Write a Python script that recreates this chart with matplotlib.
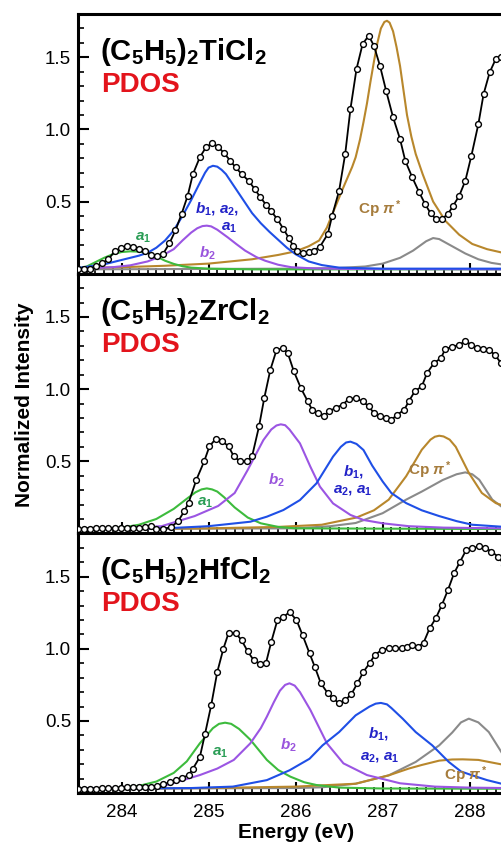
import matplotlib
matplotlib.use("Agg")
from matplotlib import pyplot as plt
from matplotlib.ticker import MultipleLocator, FixedLocator

plt.rcParams['font.family'] = ['Liberation Sans', 'DejaVu Sans']
plt.rcParams['mathtext.fontset'] = 'custom'
plt.rcParams['mathtext.rm'] = 'Liberation Sans:bold'
plt.rcParams['mathtext.it'] = 'Liberation Sans:italic:bold'
plt.rcParams['mathtext.bf'] = 'Liberation Sans:bold'

# ---- Ti panel: measured spectrum (open circles) ----
ti_e = [283.50, 283.57, 283.64, 283.71, 283.78, 283.85, 283.92, 283.99, 284.06, 284.13,
        284.20, 284.27, 284.34, 284.41, 284.48, 284.55, 284.62, 284.69, 284.76, 284.82,
        284.90, 284.97, 285.04, 285.11, 285.18, 285.25, 285.31, 285.38, 285.46, 285.53,
        285.59, 285.66, 285.72, 285.79, 285.86, 285.92, 285.97, 286.02, 286.08, 286.15,
        286.21, 286.28, 286.37, 286.42, 286.50, 286.57, 286.63, 286.70, 286.77, 286.84,
        286.90, 286.97, 287.04, 287.12, 287.20, 287.26, 287.34, 287.42, 287.49, 287.55,
        287.61, 287.68, 287.75, 287.81, 287.88, 287.95, 288.02, 288.10, 288.16, 288.23,
        288.30, 288.36]
ti_v = [0.03, 0.03, 0.035, 0.05, 0.075, 0.10, 0.155, 0.176, 0.19, 0.183,
        0.173, 0.16, 0.132, 0.12, 0.14, 0.21, 0.30, 0.414, 0.54, 0.69,
        0.807, 0.876, 0.904, 0.88, 0.834, 0.783, 0.737, 0.691, 0.644, 0.587,
        0.534, 0.478, 0.432, 0.379, 0.31, 0.25, 0.195, 0.16, 0.141, 0.148,
        0.16, 0.187, 0.275, 0.402, 0.575, 0.83, 1.141, 1.419, 1.592, 1.65,
        1.58, 1.44, 1.268, 1.084, 0.933, 0.783, 0.668, 0.564, 0.48, 0.42,
        0.379, 0.379, 0.414, 0.47, 0.54, 0.644, 0.818, 1.037, 1.245, 1.396,
        1.488, 1.50]

# Ti PDOS components
ti_green_e = [283.5, 283.6, 283.7, 283.8, 283.9, 284.0, 284.1, 284.2, 284.3, 284.4, 284.5,
              284.6, 284.7, 284.8, 285.0, 285.5, 286.5, 288.4]
ti_green_v = [0.035, 0.05, 0.08, 0.11, 0.135, 0.15, 0.155, 0.153, 0.145, 0.12, 0.09,
              0.068, 0.052, 0.042, 0.035, 0.03, 0.03, 0.03]
ti_blue_e = [283.5, 283.6, 283.8, 284.0, 284.2, 284.3, 284.4, 284.5, 284.6, 284.7, 284.8,
             284.9, 284.96, 285.0, 285.05, 285.1, 285.15, 285.2, 285.3, 285.4, 285.5, 285.6,
             285.7, 285.8, 285.9, 286.0, 286.15, 286.3, 286.5, 287.0, 288.4]
ti_blue_v = [0.04, 0.048, 0.065, 0.095, 0.125, 0.145, 0.18, 0.23, 0.3, 0.4, 0.51,
             0.63, 0.70, 0.735, 0.748, 0.742, 0.72, 0.69, 0.6, 0.51, 0.42, 0.35,
             0.29, 0.235, 0.18, 0.135, 0.085, 0.06, 0.042, 0.035, 0.035]
ti_purple_e = [283.5, 283.9, 284.1, 284.3, 284.45, 284.6, 284.7, 284.8, 284.87, 284.93, 284.98,
               285.03, 285.1, 285.22, 285.32, 285.42, 285.55, 285.65, 285.8, 285.95, 286.2,
               286.6, 288.4]
ti_purple_v = [0.035, 0.045, 0.058, 0.085, 0.12, 0.17, 0.23, 0.285, 0.315, 0.33, 0.333,
               0.328, 0.305, 0.252, 0.205, 0.16, 0.115, 0.09, 0.062, 0.045, 0.037,
               0.033, 0.03]
ti_brown_e = [283.5, 284.0, 284.5, 285.0, 285.5, 285.8, 286.0, 286.15, 286.27, 286.36, 286.42,
              286.55, 286.65, 286.69, 286.74, 286.78, 286.82, 286.86, 286.9, 286.94, 286.98,
              287.02, 287.05, 287.08, 287.12, 287.16, 287.2, 287.24, 287.28, 287.33, 287.38,
              287.46, 287.58, 287.72, 287.88, 288.03, 288.2, 288.36]
ti_brown_v = [0.04, 0.045, 0.055, 0.07, 0.1, 0.13, 0.155, 0.19, 0.23, 0.32, 0.41,
              0.6, 0.74, 0.807, 0.93, 1.05, 1.18, 1.33, 1.47, 1.6, 1.7,
              1.745, 1.753, 1.74, 1.68, 1.57, 1.44, 1.27, 1.1, 0.95, 0.83,
              0.69, 0.5, 0.367, 0.27, 0.206, 0.17, 0.148]
ti_gray_e = [283.5, 286.0, 286.5, 286.8, 287.0, 287.2, 287.35, 287.5, 287.58, 287.65, 287.8,
             287.95, 288.1, 288.25, 288.36]
ti_gray_v = [0.03, 0.035, 0.04, 0.05, 0.07, 0.11, 0.16, 0.225, 0.247, 0.24, 0.19,
             0.14, 0.1, 0.075, 0.065]

# ---- Zr panel ----
zr_e = [283.50, 283.57, 283.64, 283.71, 283.78, 283.85, 283.92, 283.99, 284.06, 284.13,
        284.20, 284.27, 284.34, 284.40, 284.48, 284.57, 284.65, 284.72, 284.77, 284.86,
        284.95, 285.01, 285.08, 285.16, 285.23, 285.29, 285.36, 285.44, 285.50, 285.58,
        285.64, 285.71, 285.78, 285.85, 285.91, 285.98, 286.06, 286.14, 286.19, 286.26,
        286.33, 286.38, 286.46, 286.54, 286.61, 286.69, 286.77, 286.84, 286.90, 286.97,
        287.04, 287.10, 287.17, 287.25, 287.30, 287.37, 287.45, 287.51, 287.59, 287.67,
        287.72, 287.80, 287.88, 287.95, 288.02, 288.09, 288.15, 288.22, 288.29, 288.36]
zr_v = [0.03, 0.03, 0.03, 0.035, 0.035, 0.035, 0.035, 0.04, 0.04, 0.04,
        0.04, 0.045, 0.05, 0.03, 0.03, 0.044, 0.084, 0.153, 0.211, 0.372,
        0.50, 0.603, 0.654, 0.638, 0.603, 0.534, 0.50, 0.50, 0.534, 0.742,
        0.938, 1.134, 1.269, 1.285, 1.25, 1.123, 1.008, 0.915, 0.857, 0.834,
        0.816, 0.846, 0.869, 0.892, 0.931, 0.938, 0.915, 0.881, 0.834, 0.816,
        0.80, 0.788, 0.823, 0.858, 0.915, 0.985, 1.019, 1.111, 1.18, 1.215,
        1.278, 1.293, 1.308, 1.331, 1.308, 1.285, 1.278, 1.273, 1.238, 1.18]

zr_green_e = [283.5, 283.8, 284.0, 284.2, 284.4, 284.6, 284.75, 284.85, 284.92, 284.98, 285.04,
              285.1, 285.18, 285.3, 285.45, 285.6, 285.8, 286.0, 288.4]
zr_green_v = [0.03, 0.035, 0.04, 0.06, 0.10, 0.17, 0.24, 0.285, 0.305, 0.312, 0.305,
              0.29, 0.25, 0.18, 0.11, 0.07, 0.045, 0.035, 0.03]
zr_purple_e = [283.5, 284.0, 284.46, 284.84, 285.11, 285.3, 285.45, 285.55, 285.63, 285.72,
               285.78, 285.83, 285.88, 285.93, 286.05, 286.17, 286.28, 286.43, 286.63,
               286.78, 287.0, 287.3, 287.7, 288.4]
zr_purple_v = [0.03, 0.035, 0.05, 0.12, 0.19, 0.28, 0.44, 0.555, 0.647, 0.72,
               0.748, 0.756, 0.75, 0.72, 0.624, 0.462, 0.324, 0.208, 0.128,
               0.093, 0.07, 0.05, 0.04, 0.035]
zr_blue_e = [283.5, 284.5, 285.0, 285.48, 285.67, 285.86, 286.05, 286.24, 286.43, 286.52,
             286.58, 286.63, 286.7, 286.78, 286.88, 287.0, 287.1, 287.27, 287.45, 287.65,
             287.85, 288.03, 288.4]
zr_blue_v = [0.03, 0.035, 0.05, 0.081, 0.116, 0.162, 0.231, 0.347, 0.532, 0.60,
             0.63, 0.636, 0.62, 0.578, 0.47, 0.36, 0.28, 0.21, 0.16, 0.12,
             0.085, 0.06, 0.045]
zr_brown_e = [283.5, 285.0, 285.8, 286.3, 286.7, 286.9, 287.07, 287.27, 287.45, 287.55, 287.6,
              287.65, 287.7, 287.77, 287.84, 287.99, 288.14, 288.3, 288.4]
zr_brown_v = [0.03, 0.035, 0.045, 0.06, 0.11, 0.16, 0.234, 0.396, 0.58, 0.65, 0.67,
              0.677, 0.672, 0.65, 0.60, 0.42, 0.28, 0.21, 0.19]
zr_gray_e = [283.5, 286.0, 286.4, 286.69, 287.0, 287.27, 287.45, 287.69, 287.85, 287.95, 288.03,
             288.11, 288.26, 288.4]
zr_gray_v = [0.03, 0.035, 0.05, 0.072, 0.14, 0.234, 0.29, 0.37, 0.41, 0.423, 0.41,
             0.372, 0.234, 0.17]

# ---- Hf panel ----
hf_e = [283.50, 283.57, 283.64, 283.71, 283.78, 283.85, 283.92, 283.99, 284.06, 284.13,
        284.20, 284.27, 284.34, 284.41, 284.48, 284.56, 284.63, 284.69, 284.77, 284.82,
        284.90, 284.96, 285.03, 285.10, 285.17, 285.23, 285.31, 285.38, 285.45, 285.52,
        285.59, 285.66, 285.72, 285.79, 285.86, 285.93, 286.01, 286.08, 286.16, 286.22,
        286.29, 286.37, 286.43, 286.50, 286.57, 286.64, 286.71, 286.78, 286.85, 286.91,
        286.99, 287.07, 287.14, 287.22, 287.28, 287.34, 287.41, 287.47, 287.54, 287.61,
        287.68, 287.75, 287.82, 287.89, 287.96, 288.03, 288.11, 288.18, 288.25, 288.33,
        288.40]
hf_v = [0.03, 0.03, 0.03, 0.03, 0.035, 0.035, 0.035, 0.035, 0.04, 0.04,
        0.04, 0.045, 0.045, 0.05, 0.06, 0.077, 0.09, 0.105, 0.123, 0.169,
        0.25, 0.412, 0.608, 0.839, 1.0, 1.11, 1.11, 1.059, 0.982, 0.92,
        0.897, 0.902, 1.047, 1.197, 1.22, 1.255, 1.2, 1.095, 0.969, 0.876,
        0.761, 0.692, 0.657, 0.622, 0.645, 0.685, 0.761, 0.841, 0.90, 0.957,
        0.992, 1.003, 1.003, 1.003, 1.015, 1.026, 1.015, 1.042, 1.142, 1.211,
        1.303, 1.407, 1.523, 1.604, 1.685, 1.696, 1.712, 1.701, 1.673, 1.638,
        1.58]

hf_green_e = [283.5, 283.9, 284.2, 284.4, 284.6, 284.75, 284.9, 285.05, 285.12, 285.19, 285.26,
              285.35, 285.48, 285.67, 285.8, 285.94, 286.1, 286.24, 286.5, 287.0, 288.4]
hf_green_v = [0.03, 0.035, 0.05, 0.08, 0.14, 0.22, 0.345, 0.45, 0.48, 0.488, 0.48,
              0.445, 0.37, 0.23, 0.16, 0.114, 0.075, 0.056, 0.038, 0.032, 0.03]
hf_purple_e = [283.5, 284.2, 284.52, 284.9, 285.1, 285.29, 285.48, 285.6, 285.67, 285.75, 285.82,
               285.88, 285.93, 285.99, 286.05, 286.17, 286.36, 286.55, 286.82, 287.2, 287.6,
               288.0, 288.4]
hf_purple_v = [0.03, 0.04, 0.056, 0.125, 0.17, 0.23, 0.345, 0.45, 0.53, 0.63, 0.71,
               0.75, 0.761, 0.745, 0.70, 0.576, 0.345, 0.206, 0.125, 0.068, 0.045,
               0.038, 0.035]
hf_blue_e = [283.5, 284.8, 285.28, 285.67, 285.93, 286.16, 286.31, 286.5, 286.69, 286.85, 286.92,
             286.98, 287.05, 287.1, 287.23, 287.38, 287.57, 287.76, 287.9, 288.03, 288.2, 288.4]
hf_blue_v = [0.03, 0.035, 0.045, 0.09, 0.158, 0.238, 0.331, 0.423, 0.539, 0.60, 0.62,
             0.625, 0.615, 0.59, 0.516, 0.423, 0.331, 0.216, 0.15, 0.123, 0.09, 0.06]
hf_brown_e = [283.5, 285.0, 286.0, 286.69, 287.07, 287.3, 287.45, 287.65, 287.8, 287.92, 288.1,
              288.22, 288.4]
hf_brown_v = [0.03, 0.035, 0.045, 0.065, 0.123, 0.17, 0.195, 0.225, 0.233, 0.234, 0.23,
              0.216, 0.195]
hf_gray_e = [283.5, 286.0, 286.3, 286.69, 287.07, 287.38, 287.65, 287.8, 287.9, 287.99, 288.1,
             288.22, 288.4]
hf_gray_v = [0.03, 0.035, 0.04, 0.065, 0.123, 0.216, 0.331, 0.42, 0.49, 0.516, 0.49,
             0.423, 0.25]

titles = [r'$\mathrm{(C_5H_5)_2TiCl_2}$', r'$\mathrm{(C_5H_5)_2ZrCl_2}$',
          r'$\mathrm{(C_5H_5)_2HfCl_2}$']

GREEN = '#3dbb3d'
BLUE = '#1f4fe6'
PURPLE = '#9b55e3'
BROWN = '#b8872c'
GRAY = '#8a8a8a'

panels = [
    (ti_e, ti_v, [(ti_gray_e, ti_gray_v, GRAY), (ti_brown_e, ti_brown_v, BROWN),
                  (ti_green_e, ti_green_v, GREEN), (ti_purple_e, ti_purple_v, PURPLE),
                  (ti_blue_e, ti_blue_v, BLUE)]),
    (zr_e, zr_v, [(zr_gray_e, zr_gray_v, GRAY), (zr_brown_e, zr_brown_v, BROWN),
                  (zr_green_e, zr_green_v, GREEN), (zr_purple_e, zr_purple_v, PURPLE),
                  (zr_blue_e, zr_blue_v, BLUE)]),
    (hf_e, hf_v, [(hf_gray_e, hf_gray_v, GRAY), (hf_brown_e, hf_brown_v, BROWN),
                  (hf_green_e, hf_green_v, GREEN), (hf_purple_e, hf_purple_v, PURPLE),
                  (hf_blue_e, hf_blue_v, BLUE)]),
]

# peak labels: (text, E, value, colour) per panel
labels = [
    [(r'$a_1$', 284.25, 0.25, '#2a9d55'), (r'$b_1$, $a_2$,', 285.10, 0.455, '#2323c8'),
     (r'$a_1$', 285.23, 0.316, '#2323c8'), (r'$b_2$', 284.99, 0.14, '#9a55dd'),
     (r'Cp $\pi^*$', 286.97, 0.45, '#a67c3c')],
    [(r'$a_1$', 284.96, 0.21, '#2a9d55'), (r'$b_2$', 285.78, 0.37, '#9a55dd'),
     (r'$b_1$,', 286.66, 0.43, '#2323c8'), (r'$a_2$, $a_1$', 286.66, 0.30, '#2323c8'),
     (r'Cp $\pi^*$', 287.54, 0.44, '#a67c3c')],
    [(r'$a_1$', 285.13, 0.276, '#2a9d55'), (r'$b_2$', 285.92, 0.333, '#9a55dd'),
     (r'$b_1$,', 286.95, 0.41, '#2323c8'), (r'$a_2$, $a_1$', 286.97, 0.252, '#2323c8'),
     (r'Cp $\pi^*$', 287.96, 0.126, '#a67c3c')],
]

fig = plt.figure(figsize=(5.01, 8.44), dpi=100)
left = 78 / 501
h = 259.7 / 844
b0 = 1 - 793.1 / 844
axes = []
for i in range(3):
    ax = fig.add_axes([left, b0 + (2 - i) * h, 1 - left, h],
                      sharex=axes[0] if axes else None)
    axes.append(ax)

for i, ax in enumerate(axes):
    e, v, comps = panels[i]
    for ce, cv, col in comps:
        ax.plot(ce, cv, color=col, lw=1.5, zorder=2)
    ax.plot(e, v, color='black', lw=1.3, marker='o', ms=4.2, mfc='white',
            mec='black', mew=1.0, zorder=3)

    ax.set_xlim(283.5, 288.36)
    ax.set_ylim(0.0, 1.8)
    ax.yaxis.set_major_locator(FixedLocator([0.5, 1.0, 1.5]))
    ax.yaxis.set_minor_locator(MultipleLocator(0.1))
    ax.xaxis.set_major_locator(MultipleLocator(1))
    ax.xaxis.set_minor_locator(MultipleLocator(0.1))
    ax.tick_params(which='both', direction='in', top=False, right=False)
    ax.tick_params(which='major', length=8, width=1.5, labelsize=13.5)
    ax.tick_params(axis='x', which='major', pad=8)
    ax.tick_params(axis='y', which='major', pad=5)
    ax.tick_params(which='minor', length=4, width=1.2)
    ax.spines['right'].set_visible(False)
    for s in ('left', 'top', 'bottom'):
        ax.spines[s].set_linewidth(2.2)
    if i < 2:
        ax.tick_params(labelbottom=False)

    ax.text(0.052, 0.823, titles[i], transform=ax.transAxes, fontsize=21,
            color='black', va='baseline', ha='left')
    ax.text(0.055, 0.70, 'PDOS', transform=ax.transAxes, fontsize=20,
            fontweight='bold', color='#e3141c', va='baseline', ha='left')
    for txt, x, y, col in labels[i]:
        ax.text(x, y, txt, color=col, fontsize=11, fontweight='bold',
                ha='center', va='center', zorder=4)

fig.text(25 / 501, 1 - 405 / 844, 'Normalized Intensity', rotation=90,
         fontsize=15, fontweight='bold', ha='center', va='center')
fig.text(296 / 501, 1 - 833 / 844, 'Energy (eV)', fontsize=15,
         fontweight='bold', ha='center', va='center')

plt.savefig('out.png', dpi=100)
